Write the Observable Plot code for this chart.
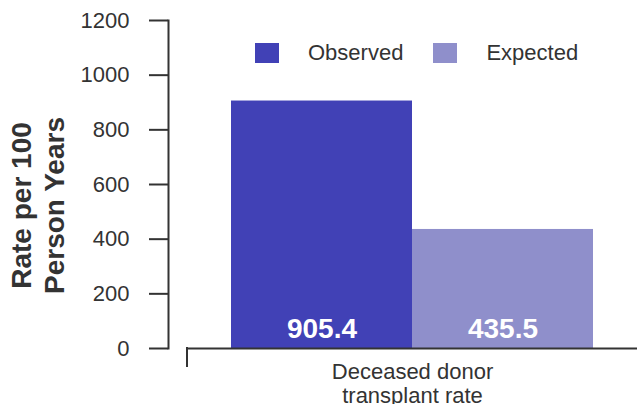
<!DOCTYPE html>
<html>
<head>
<meta charset="utf-8">
<script src="https://cdn.jsdelivr.net/npm/d3@7"></script>
<script src="https://cdn.jsdelivr.net/npm/@observablehq/plot@0.6"></script>
<style>
  html, body { margin: 0; padding: 0; background: white; }
  #wrap { position: relative; width: 637px; height: 404px; font-family: "Liberation Sans", Arial, sans-serif; }
  #legend { position: absolute; left: 255px; top: 42px; display: flex; align-items: center; font-size: 22px; color: #333; line-height: 22px; }
  #legend .sw { width: 24px; height: 20px; margin-right: 29px; }
  #legend .lab { margin-right: 30px; }
</style>
</head>
<body>
<div id="wrap"><div id="legend"></div></div>
<script>
const categories = ["Deceased donor\ntransplant rate"];
const series = ["Observed", "Expected"];
const values = [905.4, 435.5];
const valueLabels = ["905.4", "435.5"];
const colors = ["#4141b6", "#8f8fcb"];
const yTicks = [0, 200, 400, 600, 800, 1000, 1200];
const yTitle = "Rate per 100\nPerson Years";

const data = series.map((s, i) => ({series: s, value: values[i], label: valueLabels[i]}));

const chart = Plot.plot({
  width: 637,
  height: 404,
  marginLeft: 187,
  marginRight: 0,
  marginTop: 20,
  marginBottom: 56,
  style: {fontFamily: "'Liberation Sans', Arial, sans-serif", fontSize: "22px", color: "#333", background: "white"},
  x: {domain: series, paddingInner: 0, paddingOuter: 0.243, axis: null},
  y: {domain: [0, 1200], axis: null},
  color: {domain: series, range: colors},
  marks: [
    Plot.barY(data, {x: "series", y: "value", fill: "series"}),
    Plot.text(data, {x: "series", text: "label", frameAnchor: "bottom", lineAnchor: "bottom", dy: -11, fill: "white", fontWeight: "bold", fontSize: 28}),
    Plot.ruleY([0], {stroke: "#333", strokeWidth: 2}),
    Plot.frame({anchor: "left", dx: -19, stroke: "#333", strokeWidth: 2}),
    Plot.axisY(yTicks, {tickSize: 19, dx: -19, tickPadding: 20, strokeWidth: 2, fontSize: 22, tickFormat: d3.format("d"), label: null}),
    Plot.text(categories, {text: d => d, frameAnchor: "bottom", lineAnchor: "top", dy: 13, fontSize: 22, lineHeight: 1.1, textAnchor: "middle"}),
    Plot.text([yTitle], {text: d => d, frameAnchor: "left", rotate: -90, textAnchor: "middle", lineAnchor: "middle", dx: -151, dy: 21, fontSize: 28, fontWeight: "bold", lineHeight: 1.18})
  ]
});

const y0 = chart.scale("y").apply(0);
d3.select(chart).append("line")
  .attr("x1", 187).attr("x2", 187)
  .attr("y1", y0 - 1).attr("y2", y0 + 19)
  .attr("stroke", "#333").attr("stroke-width", 2);

const wrap = document.getElementById("wrap");
wrap.insertBefore(chart, wrap.firstChild);

const legend = d3.select("#legend");
series.forEach((s, i) => {
  legend.append("div").attr("class", "sw").style("background", colors[i]);
  legend.append("div").attr("class", "lab").text(s);
});
</script>
</body>
</html>
